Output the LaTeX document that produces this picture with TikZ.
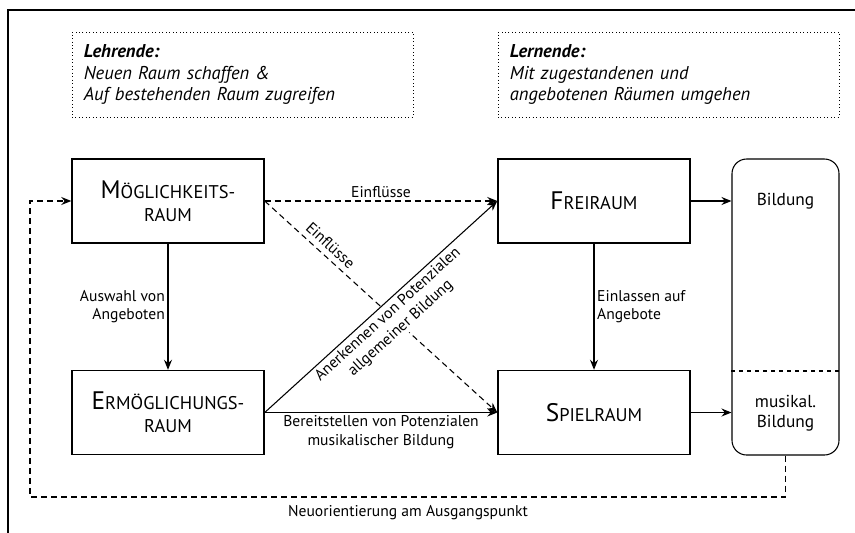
\documentclass[tikz,border=0pt]{standalone}
\usepackage{fontspec}
\setmainfont{PT Sans}
\usetikzlibrary{arrows.meta,calc}
\newcommand\tsc[2]{{\fontsize{19pt}{17.5pt}\selectfont #1}{\fontsize{13.8pt}{17.5pt}\selectfont #2}}
\begin{document}
\begin{tikzpicture}[x=0.75pt,y=-0.75pt,
  >={Stealth[length=7.5pt,width=6pt,inset=2.5pt]},
  box/.style={draw, line width=1.1pt, minimum width=144pt, minimum height=63pt, align=center, inner sep=0pt, font=\fontsize{13.8pt}{17.5pt}\selectfont},
  hdr/.style={draw, dotted, line width=0.6pt, minimum width=255.75pt, minimum height=63.75pt, text width=238pt, align=left, inner sep=0pt, font=\fontsize{13.9pt}{16pt}\selectfont\itshape},
  lbl/.style={font=\fontsize{11.7pt}{14pt}\selectfont, inner sep=2pt},
  bl/.style={font=\fontsize{13pt}{15pt}\selectfont, align=center, inner sep=0pt},
  conn/.style={->, line width=0.8pt},
  dconn/.style={->, line width=0.8pt, dash pattern=on 4.5pt off 3pt},
]
\useasboundingbox (0,0) rectangle (855,532);
\draw[line width=1.5pt] (8,545) -- (8,10) -- (870,10);

\node[hdr] (lehr) at (242.5,74.5) {\textbf{Lehrende:}\\Neuen Raum schaffen \&\\Auf bestehenden Raum zugreifen};
\node[hdr] (lern) at (668.5,74.5) {\textbf{Lernende:}\\Mit zugestandenen und\\angebotenen Räumen umgehen};

\node[box] (mogl) at (168,201) {\tsc{M}{ÖGLICHKEITS-}\\RAUM};
\node[box] (erm) at (168,412.5) {\tsc{E}{RMÖGLICHUNGS-}\\RAUM};
\node[box] (frei) at (594,201) {\tsc{F}{REIRAUM}};
\node[box] (spiel) at (594,412.5) {\tsc{S}{PIELRAUM}};

\node[draw, line width=0.8pt, rounded corners=11pt, minimum width=80.25pt, minimum height=222pt, inner sep=0pt] (bild) at (785.5,307) {};
\coordinate (divy) at (0,371);
\draw[dashed, line width=0.8pt] (bild.west |- divy) -- (bild.east |- divy);
\node[bl] (b1) at (785.5,201) {Bildung};
\node[bl] (b2) at (785.5,413) {musikal.\\Bildung};

\draw[conn] (mogl) -- node[lbl, left, align=right] {Auswahl von\\Angeboten} (erm);
\draw[conn] (frei) -- node[lbl, right, align=left] {Einlassen auf\\Angebote} (spiel);
\draw[dconn] (mogl.east) -- node[lbl, above] {Einflüsse} (frei.west);
\draw[dconn] (mogl.east) -- node[lbl, above=2pt, sloped, pos=0.25] {Einflüsse} (spiel.west);
\draw[conn] (erm.east) -- node[lbl, below=1.2pt, sloped, align=center, inner sep=1pt, fill=white] {Anerkennen von Potenzialen\\allgemeiner Bildung} (frei.west);
\draw[conn] (erm.east) -- node[lbl, below, align=center] {Bereitstellen von Potenzialen\\musikalischer Bildung} (spiel.west);
\draw[conn] (frei.east) -- (frei.east -| bild.west);
\draw[conn] (spiel.east) -- (spiel.east -| bild.west);

\coordinate (fb1) at (785.5,497);
\coordinate (fb2) at (30,497);
\coordinate (fb3) at (30,201);
\draw[dconn] (bild.south) -- (fb1) -- (fb2) -- (fb3) -- (mogl.west);
\node[lbl] (neu) at (408,513) {Neuorientierung am Ausgangspunkt};
\end{tikzpicture}
\end{document}
